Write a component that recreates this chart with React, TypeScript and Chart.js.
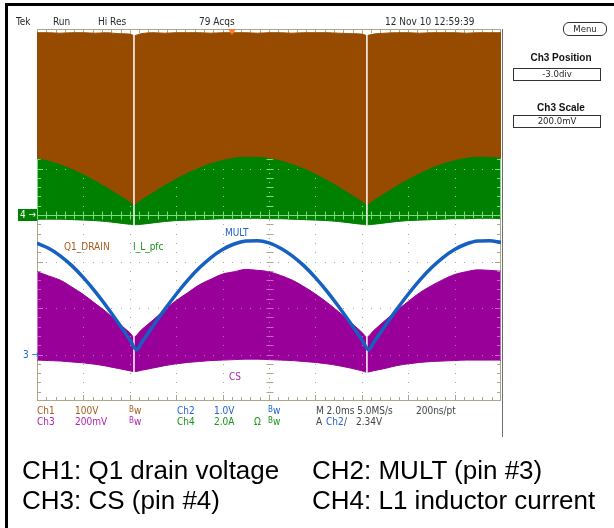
import React, { useEffect, useRef } from "react";
import { Chart, registerables } from "chart.js";

Chart.register(...registerables);

// ---- time axis (divisions, 2.0 ms/div) ----
const TIME_A = [0, 0.25, 0.5, 0.75, 1, 1.25, 1.5, 1.75, 2, 2.09, 2.25, 2.5, 2.75, 3, 3.25, 3.5, 3.75, 4, 4.25, 4.5, 4.75, 5, 5.25, 5.5, 5.75, 6, 6.25, 6.5, 6.75, 7, 7.11, 7.25, 7.5, 7.75, 8, 8.25, 8.5, 8.75, 9, 9.25, 9.5, 9.75, 10];
const TIME_B = [0, 0.25, 0.5, 0.75, 1, 1.25, 1.5, 1.75, 2, 2.15, 2.25, 2.5, 2.75, 3, 3.25, 3.5, 3.75, 4, 4.25, 4.5, 4.75, 5, 5.25, 5.5, 5.75, 6, 6.25, 6.5, 6.75, 7, 7.15, 7.25, 7.5, 7.75, 8, 8.25, 8.5, 8.75, 9, 9.25, 9.5, 9.75, 10];

// ---- CH1: Q1 drain voltage envelope top (div) ----
const CH1_TOP = [3.92, 3.92, 3.91, 3.92, 3.92, 3.91, 3.92, 3.9, 3.89, 3.86, 3.9, 3.92, 3.91, 3.92, 3.92, 3.92, 3.91, 3.92, 3.92, 3.92, 3.91, 3.92, 3.92, 3.91, 3.92, 3.92, 3.92, 3.91, 3.9, 3.89, 3.86, 3.89, 3.91, 3.92, 3.92, 3.91, 3.92, 3.92, 3.92, 3.91, 3.92, 3.92, 3.92];

// ---- CH4: L1 inductor current envelope (div) ----
const CH4_TOP = [1.209, 1.156, 1.079, 0.981, 0.864, 0.732, 0.587, 0.433, 0.273, 0.215, 0.318, 0.476, 0.628, 0.77, 0.899, 1.01, 1.103, 1.173, 1.22, 1.243, 1.24, 1.213, 1.161, 1.085, 0.989, 0.874, 0.744, 0.599, 0.445, 0.286, 0.215, 0.305, 0.464, 0.617, 0.759, 0.889, 1.002, 1.096, 1.168, 1.218, 1.242, 1.241, 1.216];
const CH4_BOTTOM = [-0.09, -0.09, -0.09, -0.1, -0.11, -0.12, -0.14, -0.17, -0.2, -0.21, -0.2, -0.17, -0.14, -0.12, -0.11, -0.1, -0.09, -0.08, -0.08, -0.07, -0.07, -0.08, -0.08, -0.09, -0.1, -0.11, -0.12, -0.14, -0.17, -0.2, -0.21, -0.2, -0.17, -0.14, -0.12, -0.11, -0.1, -0.09, -0.08, -0.08, -0.07, -0.07, -0.08];

// ---- CH3: CS (pin #4) envelope (div) ----
const CH3_TOP = [-1.22, -1.31, -1.4, -1.55, -1.71, -1.9, -2.09, -2.32, -2.53, -2.62, -2.47, -2.26, -2.04, -1.84, -1.67, -1.5, -1.38, -1.27, -1.22, -1.17, -1.19, -1.22, -1.3, -1.4, -1.54, -1.7, -1.88, -2.08, -2.3, -2.52, -2.62, -2.49, -2.27, -2.06, -1.86, -1.67, -1.52, -1.39, -1.28, -1.22, -1.18, -1.19, -1.21];
const CH3_BOTTOM = [-3.12, -3.13, -3.14, -3.16, -3.18, -3.21, -3.25, -3.3, -3.35, -3.37, -3.34, -3.29, -3.24, -3.2, -3.17, -3.15, -3.13, -3.12, -3.11, -3.1, -3.1, -3.11, -3.12, -3.13, -3.15, -3.17, -3.2, -3.24, -3.29, -3.35, -3.38, -3.35, -3.3, -3.24, -3.2, -3.17, -3.15, -3.14, -3.13, -3.12, -3.12, -3.12, -3.12];

// ---- CH2: MULT (pin #3) (div) ----
const CH2_MULT = [-0.607, -0.715, -0.877, -1.089, -1.346, -1.641, -1.967, -2.316, -2.679, -2.9, -2.752, -2.387, -2.035, -1.704, -1.402, -1.137, -0.916, -0.743, -0.624, -0.56, -0.553, -0.6, -0.715, -0.877, -1.089, -1.346, -1.641, -1.967, -2.316, -2.679, -2.9, -2.752, -2.387, -2.035, -1.704, -1.402, -1.137, -0.916, -0.743, -0.624, -0.56, -0.555, -0.59];

// dead-time gaps of the switching waveform (div)
const GAP_TIMES = [2.09, 7.11];
const GAP_SPAN = [3.93, -3.45];

const X_DIVS = 10;
const Y_DIVS = 8;

const C_BROWN = "#964b00";
const C_GREEN = "#008000";
const C_PURPLE = "#990099";
const C_BLUE = "#1560c0";
const GRID = "#aea688";

const NARROW = "'Liberation Sans Narrow','DejaVu Sans Condensed','Liberation Sans',Arial,sans-serif";
const SANS = "'Liberation Sans',Arial,Helvetica,sans-serif";

const pts = (xs: number[], ys: number[]) => xs.map((x, i) => ({ x, y: ys[i] }));

function drawGraticule(chart: any, color: string) {
  const ctx = chart.ctx as CanvasRenderingContext2D;
  const xs = chart.scales.x;
  const ys = chart.scales.y;
  const L = xs.getPixelForValue(0);
  const R = xs.getPixelForValue(X_DIVS);
  const T = ys.getPixelForValue(Y_DIVS / 2);
  const B = ys.getPixelForValue(-Y_DIVS / 2);
  const cx = Math.round(xs.getPixelForValue(X_DIVS / 2)) + 0.5;
  const cy = Math.round(ys.getPixelForValue(0)) + 0.5;
  ctx.save();
  ctx.fillStyle = color;
  ctx.strokeStyle = color;
  ctx.lineWidth = 1;
  const dot = (x: number, y: number) => ctx.fillRect(Math.round(x), Math.round(y), 1, 1);
  for (let i = 1; i < X_DIVS; i++) {
    if (i === X_DIVS / 2) continue;
    const x = xs.getPixelForValue(i);
    for (let k = 1; k < Y_DIVS * 5; k++) dot(x, ys.getPixelForValue(-Y_DIVS / 2 + k * 0.2));
  }
  for (let j = -Y_DIVS / 2 + 1; j < Y_DIVS / 2; j++) {
    if (j === 0) continue;
    const y = ys.getPixelForValue(j);
    for (let k = 1; k < X_DIVS * 5; k++) dot(xs.getPixelForValue(k * 0.2), y);
  }
  ctx.beginPath();
  ctx.moveTo(L, cy);
  ctx.lineTo(R, cy);
  for (let k = 1; k < X_DIVS * 5; k++) {
    const x = Math.round(xs.getPixelForValue(k * 0.2)) + 0.5;
    ctx.moveTo(x, cy - 4);
    ctx.lineTo(x, cy + 4);
  }
  for (let k = 1; k < Y_DIVS * 5; k++) {
    const y = Math.round(ys.getPixelForValue(-Y_DIVS / 2 + k * 0.2)) + 0.5;
    ctx.moveTo(cx - 3, y);
    ctx.lineTo(cx + 4, y);
  }
  for (let k = 1; k < X_DIVS * 5; k++) {
    const x = Math.round(xs.getPixelForValue(k * 0.2)) + 0.5;
    const len = k % 5 === 0 ? 6 : 4;
    ctx.moveTo(x, T);
    ctx.lineTo(x, T + len);
    ctx.moveTo(x, B);
    ctx.lineTo(x, B - len);
  }
  for (let k = 1; k < Y_DIVS * 5; k++) {
    const y = Math.round(ys.getPixelForValue(-Y_DIVS / 2 + k * 0.2)) + 0.5;
    const len = k % 5 === 0 ? 6 : 4;
    ctx.moveTo(L, y);
    ctx.lineTo(L + len, y);
    ctx.moveTo(R, y);
    ctx.lineTo(R - len, y);
  }
  ctx.stroke();
  for (let k = 1; k < Y_DIVS * 5; k++) dot(cx - 0.5, ys.getPixelForValue(-Y_DIVS / 2 + k * 0.2) + 4.6);
  ctx.strokeRect(Math.round(L) + 0.5, Math.round(T) + 0.5, Math.round(R - L) - 1, Math.round(B - T) - 1);
  ctx.restore();
}

function clipToBand(chart: any, topIdx: number, botIdx: number) {
  const ctx = chart.ctx as CanvasRenderingContext2D;
  const top = chart.getDatasetMeta(topIdx).data;
  const bot = chart.getDatasetMeta(botIdx).data;
  ctx.beginPath();
  top.forEach((p: any, i: number) => (i === 0 ? ctx.moveTo(p.x, p.y) : ctx.lineTo(p.x, p.y)));
  for (let i = bot.length - 1; i >= 0; i--) ctx.lineTo(bot[i].x, bot[i].y);
  ctx.closePath();
  ctx.clip();
}

const graticulePlugin = {
  id: "graticule",
  beforeDatasetsDraw(chart: any) {
    drawGraticule(chart, GRID);
  },
  afterDatasetDraw(chart: any, args: any) {
    const ctx = chart.ctx as CanvasRenderingContext2D;
    if (args.index === 4) {
      ctx.save();
      clipToBand(chart, 4, 5);
      drawGraticule(chart, "#7fdc7f");
      ctx.restore();
    }
    if (args.index === 2) {
      ctx.save();
      clipToBand(chart, 2, 3);
      drawGraticule(chart, "#c465c4");
      ctx.restore();
    }
  },
};

function Label(props: {
  x: number;
  y: number;
  color?: string;
  size?: number;
  family?: string;
  bold?: boolean;
  center?: boolean;
  children: React.ReactNode;
}) {
  const { x, y, color = "#2a2a2a", size = 10, family = NARROW, bold = false, center = false, children } = props;
  const style: React.CSSProperties = {
    position: "absolute",
    left: x,
    top: y - size / 2,
    fontFamily: family,
    fontSize: size,
    lineHeight: `${size}px`,
    color,
    fontWeight: bold ? 700 : 400,
    whiteSpace: "nowrap",
  };
  if (center) style.transform = "translateX(-50%)";
  return <div style={style}>{children}</div>;
}

function Bw(props: { x: number; y: number; color: string }) {
  return (
    <Label x={props.x} y={props.y} color={props.color}>
      <span style={{ fontSize: 8, position: "relative", top: -2 }}>B</span>w
    </Label>
  );
}

export default function App() {
  const ref = useRef<HTMLCanvasElement>(null);

  useEffect(() => {
    const gapData: any[] = [];
    GAP_TIMES.forEach((t) => {
      gapData.push({ x: t, y: GAP_SPAN[0] }, { x: t, y: GAP_SPAN[1] }, { x: t + 0.01, y: null });
    });
    const common = { pointRadius: 0, cubicInterpolationMode: "monotone" as const };
    const chart = new Chart(ref.current!, {
      type: "line",
      data: {
        datasets: [
          { label: "CH2 MULT", data: pts(TIME_B, CH2_MULT), borderColor: C_BLUE, borderWidth: 3.5, fill: false, order: 0, ...common },
          { label: "gap", data: gapData, borderColor: "#ffffff", borderWidth: 1.5, fill: false, order: 1, pointRadius: 0, tension: 0, spanGaps: false },
          { label: "CH3 top", data: pts(TIME_A, CH3_TOP), borderColor: C_PURPLE, borderWidth: 1, backgroundColor: C_PURPLE, fill: "+1", order: 2, ...common },
          { label: "CH3 bottom", data: pts(TIME_A, CH3_BOTTOM), borderColor: C_PURPLE, borderWidth: 1, fill: false, order: 3, ...common },
          { label: "CH4 top", data: pts(TIME_A, CH4_TOP), borderColor: C_GREEN, borderWidth: 1, backgroundColor: C_GREEN, fill: "+1", order: 4, ...common },
          { label: "CH4 bottom", data: pts(TIME_A, CH4_BOTTOM), borderColor: C_GREEN, borderWidth: 1, fill: false, order: 5, ...common },
          { label: "CH1", data: pts(TIME_A, CH1_TOP), borderColor: C_BROWN, borderWidth: 1, backgroundColor: C_BROWN, fill: { value: 0 }, order: 6, ...common },
        ] as any,
      },
      options: {
        responsive: false,
        animation: false,
        events: [],
        layout: { padding: { left: 37, top: 29, right: 113, bottom: 127 } },
        scales: {
          x: { type: "linear", min: 0, max: X_DIVS, display: false },
          y: { type: "linear", min: -Y_DIVS / 2, max: Y_DIVS / 2, display: false },
        },
        plugins: { legend: { display: false }, tooltip: { enabled: false } },
      },
      plugins: [graticulePlugin],
    });
    return () => chart.destroy();
  }, []);

  const brownT = "#a85a1c";
  const purpleT = "#b024b0";
  const blueT = "#2262d0";
  const greenT = "#1a941a";
  const grayT = "#444444";

  return (
    <div style={{ position: "absolute", left: 0, top: 0, width: 614, height: 528, background: "#ffffff", overflow: "hidden" }}>
      <canvas ref={ref} width={614} height={528} style={{ position: "absolute", left: 0, top: 0, width: 614, height: 528 }} />

      {/* frame */}
      <div style={{ position: "absolute", left: 5, top: 3, width: 609, height: 3, background: "#000" }} />
      <div style={{ position: "absolute", left: 5, top: 3, width: 3, height: 525, background: "#000" }} />
      <div style={{ position: "absolute", left: 502, top: 29, width: 1, height: 408, background: "#6e6e6e" }} />

      {/* header */}
      <Label x={16} y={22}>Tek</Label>
      <Label x={53} y={22}>Run</Label>
      <Label x={98} y={22}>Hi Res</Label>
      <Label x={199} y={22}>79 Acqs</Label>
      <Label x={385} y={22}>12 Nov 10 12:59:39</Label>
      <div style={{ position: "absolute", left: 228, top: 29, width: 0, height: 0, borderLeft: "4px solid transparent", borderRight: "4px solid transparent", borderTop: "6px solid #ff7a2a" }} />

      {/* side menu */}
      <div style={{ position: "absolute", left: 563, top: 22, width: 42, height: 12, border: "1px solid #333", borderRadius: 6, boxSizing: "content-box" }} />
      <Label x={585} y={29} size={9.5} center>Menu</Label>
      <Label x={561} y={58} size={10} family={SANS} bold color="#111" center>Ch3 Position</Label>
      <div style={{ position: "absolute", left: 513, top: 68, width: 86, height: 11, border: "1px solid #333" }} />
      <Label x={557} y={74} size={9.5} center>-3.0div</Label>
      <Label x={561} y={108} size={10} family={SANS} bold color="#111" center>Ch3 Scale</Label>
      <div style={{ position: "absolute", left: 513, top: 115, width: 86, height: 11, border: "1px solid #333" }} />
      <Label x={557} y={121} size={9.5} center>200.0mV</Label>

      {/* channel markers */}
      <div style={{ position: "absolute", left: 18, top: 209, width: 19, height: 12, background: C_GREEN }} />
      <Label x={20} y={215} size={10} color="#ffffff">4 →</Label>
      <Label x={23} y={355} size={10} color={blueT}>3 →</Label>

      {/* trace labels */}
      <Label x={64} y={247} color={brownT}>Q1_DRAIN</Label>
      <Label x={133} y={247} color={greenT}>I_L_pfc</Label>
      <Label x={225} y={233} color={blueT}>MULT</Label>
      <Label x={229} y={377} color={purpleT}>CS</Label>

      {/* readout row 1 */}
      <Label x={37} y={411} color={brownT}>Ch1</Label>
      <Label x={75} y={411} color={brownT}>100V</Label>
      <Bw x={129} y={411} color={brownT} />
      <Label x={177} y={411} color={blueT}>Ch2</Label>
      <Label x={214} y={411} color={blueT}>1.0V</Label>
      <Bw x={268} y={411} color={blueT} />
      <Label x={316} y={411} color={grayT}>M 2.0ms 5.0MS/s</Label>
      <Label x={416} y={411} color={grayT}>200ns/pt</Label>
      {/* readout row 2 */}
      <Label x={37} y={422} color={purpleT}>Ch3</Label>
      <Label x={75} y={422} color={purpleT}>200mV</Label>
      <Bw x={129} y={422} color={purpleT} />
      <Label x={177} y={422} color={greenT}>Ch4</Label>
      <Label x={214} y={422} color={greenT}>2.0A</Label>
      <Label x={254} y={422} color={greenT}>Ω</Label>
      <Bw x={268} y={422} color={greenT} />
      <Label x={316} y={422} color={grayT}>A</Label>
      <Label x={326} y={422} color={blueT}>Ch2</Label>
      <Label x={344} y={422} color={grayT}>/</Label>
      <Label x={356} y={422} color={grayT}>2.34V</Label>

      {/* captions */}
      <div style={{ position: "absolute", left: 22, top: 457, fontFamily: SANS, fontSize: 26, lineHeight: "26px", color: "#000", whiteSpace: "nowrap" }}>CH1: Q1 drain voltage</div>
      <div style={{ position: "absolute", left: 312, top: 457, fontFamily: SANS, fontSize: 26, lineHeight: "26px", color: "#000", whiteSpace: "nowrap" }}>CH2: MULT (pin #3)</div>
      <div style={{ position: "absolute", left: 22, top: 487, fontFamily: SANS, fontSize: 26, lineHeight: "26px", color: "#000", whiteSpace: "nowrap" }}>CH3: CS (pin #4)</div>
      <div style={{ position: "absolute", left: 312, top: 487, fontFamily: SANS, fontSize: 26, lineHeight: "26px", color: "#000", whiteSpace: "nowrap" }}>CH4: L1 inductor current</div>
    </div>
  );
}
